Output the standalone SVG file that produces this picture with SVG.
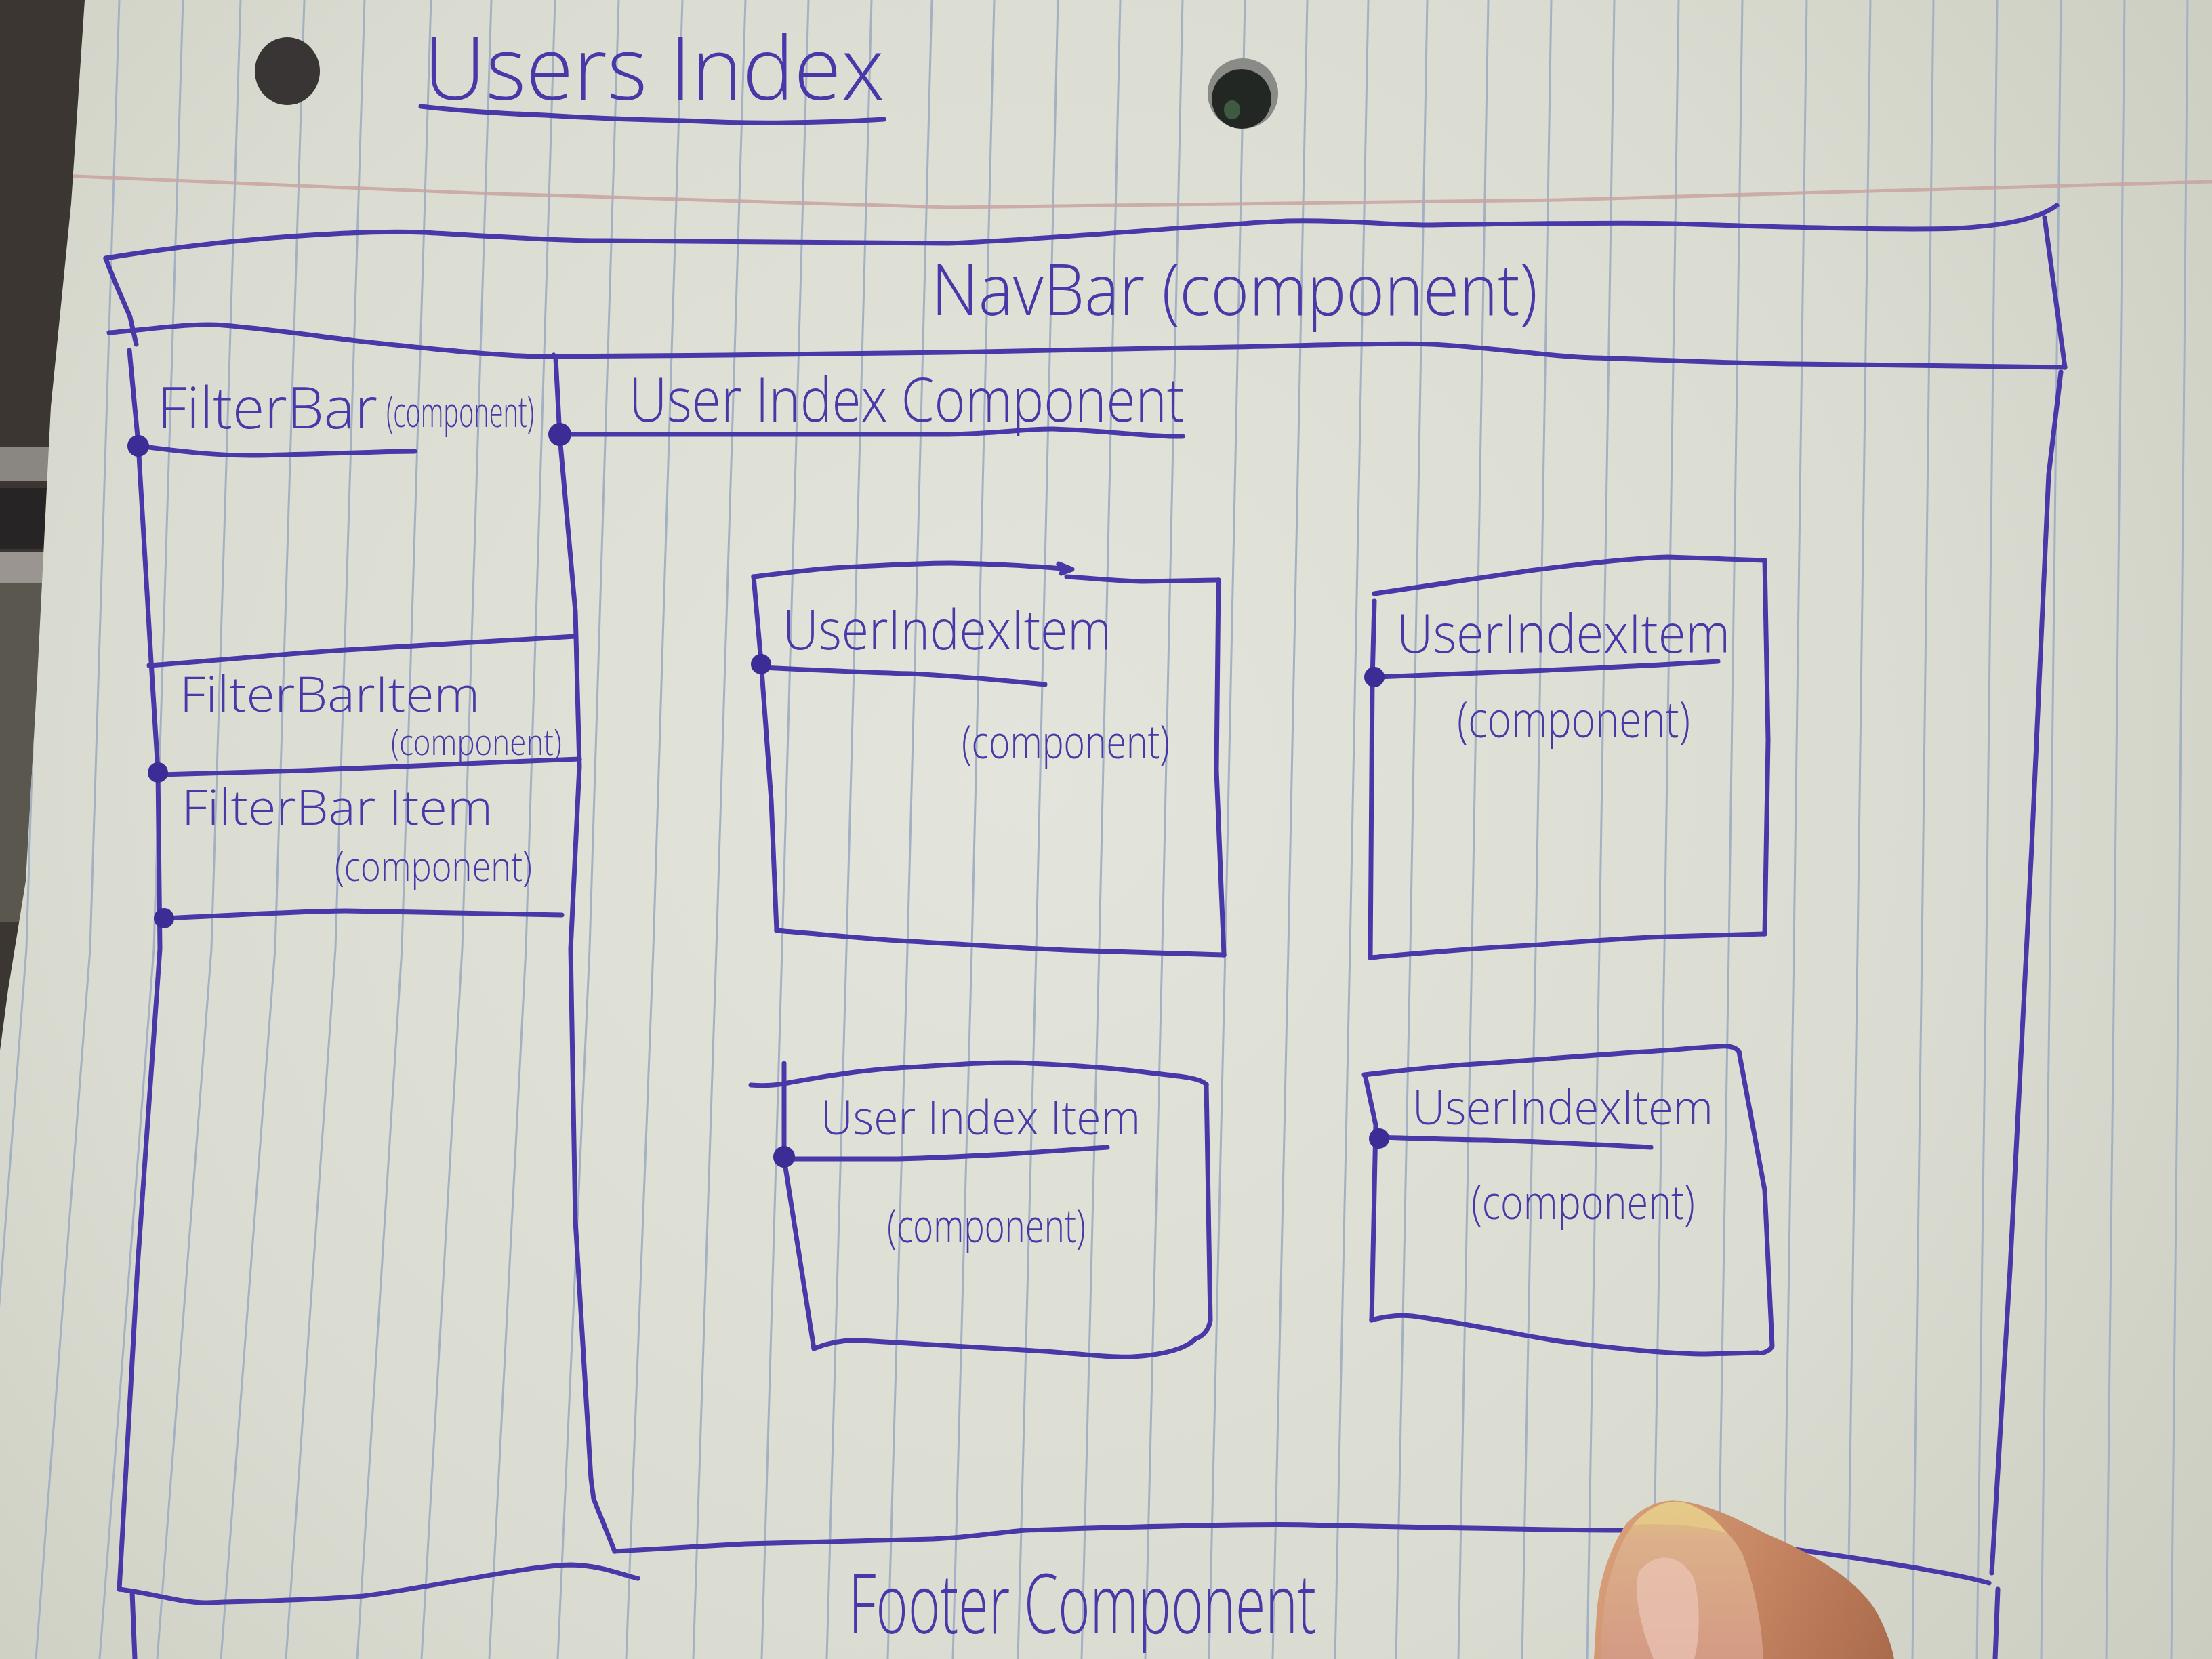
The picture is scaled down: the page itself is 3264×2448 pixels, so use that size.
<svg xmlns="http://www.w3.org/2000/svg" width="3264" height="2448" viewBox="0 0 3264 2448">
  <defs>
    <radialGradient id="paperShade" cx="1500" cy="1150" r="2300" gradientUnits="userSpaceOnUse">
      <stop offset="0" stop-color="#e3e4db"/>
      <stop offset="0.6" stop-color="#dadcd1"/>
      <stop offset="1" stop-color="#c9cbbf"/>
    </radialGradient>
    <linearGradient id="skin" x1="2350" y1="2250" x2="2800" y2="2448" gradientUnits="userSpaceOnUse">
      <stop offset="0" stop-color="#d9a27c"/>
      <stop offset="0.5" stop-color="#c68663"/>
      <stop offset="1" stop-color="#a96a4c"/>
    </linearGradient>
    <linearGradient id="nail" x1="2466" y1="2213" x2="2466" y2="2448" gradientUnits="userSpaceOnUse">
      <stop offset="0" stop-color="#e2c27c"/>
      <stop offset="0.25" stop-color="#dcb08a"/>
      <stop offset="1" stop-color="#d49a84"/>
    </linearGradient>
    <clipPath id="paperArea">
      <path d="M125 0 L3264 0 L3264 2448 L0 2448 L0 1550 L12 1460 L38 1300 L55 1000 L75 600 L105 300 Z"/>
    </clipPath>
    <style>
      .rule { fill: none; stroke: #a3b1c2; stroke-width: 3; }
      .ink { fill: none; stroke: #4838a8; stroke-width: 7; stroke-linecap: round; stroke-linejoin: round; }
      .dot { fill: #3b2c96; }
      .hand { fill: #4838a8; font-family: "Open Sans", "Liberation Sans", sans-serif; font-weight: 300; }
    </style>
  </defs>

  <!-- table surface behind the sheet -->
  <rect x="0" y="0" width="3264" height="2448" fill="#3c3633"/>
  <rect x="0" y="660" width="120" height="50" fill="#8a8682"/>
  <rect x="0" y="720" width="120" height="90" fill="#262424"/>
  <rect x="0" y="815" width="120" height="45" fill="#9a9590"/>
  <rect x="0" y="860" width="120" height="500" fill="#5a574f"/>

  <!-- ruled sheet -->
  <g id="paper" clip-path="url(#paperArea)">
    <rect x="0" y="0" width="3264" height="2448" fill="url(#paperShade)"/>
    <path class="rule" d="M82 0 L39 1400 L-41 2448 M176 0 L133 1400 L53 2448 M270 0 L227 1400 L147 2448 M355 0 L312 1400 L232 2448 M449 0 L406 1400 L326 2448 M538 0 L495 1400 L422 2448 M636 0 L593 1400 L527 2448 M725 0 L682 1400 L622 2448 M819 0 L776 1400 L722 2448 M913 0 L870 1400 L823 2448 M1007 0 L964 1400 L924 2448 M1100 0 L1057 1400 L1023 2448 M1193 0 L1154 1400 L1124 2448 M1286 0 L1249 1400 L1220 2448 M1375 0 L1339 1400 L1310 2448 M1467 0 L1434 1400 L1406 2448 M1561 0 L1529 1400 L1502 2448 M1653 0 L1622 1400 L1596 2448 M1745 0 L1715 1400 L1690 2448 M1837 0 L1808 1400 L1784 2448 M1929 0 L1901 1400 L1878 2448 M2019 0 L1992 1400 L1970 2448 M2106 0 L2081 1400 L2060 2448 M2196 0 L2172 1400 L2152 2448 M2289 0 L2266 1400 L2246 2448 M2382 0 L2360 1400 L2342 2448 M2477 0 L2456 1400 L2438 2448 M2571 0 L2551 1400 L2534 2448 M2666 0 L2647 1400 L2631 2448 M2760 0 L2741 1400 L2726 2448 M2853 0 L2836 1400 L2822 2448 M2947 0 L2931 1400 L2917 2448 M3041 0 L3025 1400 L3012 2448 M3135 0 L3120 1400 L3108 2448 M3228 0 L3215 1400 L3204 2448"/>
    <!-- margin line -->
    <path d="M89 259 L700 285 L1400 306 L2300 295 L3264 268" fill="none" stroke="#c9a3a0" stroke-width="5" opacity="0.85"/>
    <!-- punch holes -->
    <ellipse cx="424" cy="105" rx="48" ry="50" fill="#383534"/>
    <ellipse cx="1834" cy="138" rx="52" ry="52" fill="#8a8a86"/>
    <ellipse cx="1832" cy="146" rx="44" ry="44" fill="#232723"/>
    <ellipse cx="1818" cy="162" rx="12" ry="14" fill="#3e5a40"/>
  </g>

  <g id="title">
    <text class="hand" x="625" y="147" font-size="130" textLength="680" lengthAdjust="spacingAndGlyphs">Users Index</text>
    <path class="ink" d="M621 157 Q700 166 804 170 Q900 176 1009 178 Q1090 182 1161 181 Q1240 180 1304 176"/>
  </g>

  <g id="navbar">
    <path class="ink" d="M156 381 C210 372 300 360 357 355 C450 346 560 340 625 343 C750 350 820 355 893 355 L1400 359 C1600 350 1800 330 1899 326 C2000 324 2050 333 2113 332 C2250 330 2400 328 2470 330 C2650 336 2800 340 2886 337 C2960 333 3010 322 3035 303"/>
    <path class="ink" d="M161 491 C230 485 290 476 330 480 C420 488 480 498 536 504 C650 516 740 526 804 526 L1071 524 L1400 520 C1550 516 1650 515 1757 513 C1900 511 2050 505 2113 508 C2220 514 2290 527 2351 528 C2480 532 2580 537 2648 537 L3047 542"/>
    <path class="ink" d="M156 381 C170 420 185 450 192 468 L201 508"/>
    <path class="ink" d="M3017 321 L3047 542"/>
    <text class="hand" x="1374" y="465" font-size="105" textLength="895" lengthAdjust="spacingAndGlyphs">NavBar (component)</text>
  </g>

  <g id="page-frame">
    <path class="ink" d="M191 517 L204 655 L223 976 L233 1137 L236 1400 L203 1868 L176 2345"/>
    <path class="ink" d="M195 2349 L199 2448"/>
    <path class="ink" d="M3041 549 L3023 700 L2998 1249 L2966 1873 L2939 2321"/>
    <path class="ink" d="M2948 2345 L2944 2448"/>
  </g>

  <g id="filterbar">
    <text class="hand" x="232" y="632" font-size="85" textLength="325" lengthAdjust="spacingAndGlyphs">FilterBar</text>
    <text class="hand" x="570" y="630" font-size="62" textLength="218" lengthAdjust="spacingAndGlyphs">(component)</text>
    <path class="ink" d="M204 658 C280 668 330 673 383 672 C480 670 560 666 612 666"/>
    <circle class="dot" cx="204" cy="658" r="16"/>
    <path class="ink" d="M176 2345 C230 2352 270 2366 306 2365 C400 2362 480 2360 536 2355 C650 2340 780 2310 842 2309 C890 2310 920 2325 941 2329"/>
  </g>

  <g id="filterbar-item-1">
    <path class="ink" d="M220 982 C350 972 430 964 510 959 C650 951 760 944 849 939"/>
    <text class="hand" x="265" y="1050" font-size="72" textLength="443" lengthAdjust="spacingAndGlyphs">FilterBarItem</text>
    <text class="hand" x="577" y="1114" font-size="54" textLength="252" lengthAdjust="spacingAndGlyphs">(component)</text>
  </g>

  <g id="filterbar-item-2">
    <path class="ink" d="M236 1143 C330 1140 390 1138 447 1137 C530 1134 590 1131 638 1129 L855 1120"/>
    <circle class="dot" cx="233" cy="1140" r="15"/>
    <text class="hand" x="268" y="1217" font-size="72" textLength="459" lengthAdjust="spacingAndGlyphs">FilterBar Item</text>
    <text class="hand" x="494" y="1300" font-size="60" textLength="291" lengthAdjust="spacingAndGlyphs">(component)</text>
    <path class="ink" d="M242 1355 C350 1350 430 1345 510 1344 L829 1350"/>
    <circle class="dot" cx="242" cy="1355" r="15"/>
  </g>

  <g id="user-index">
    <path class="ink" d="M817 524 L820 529 L826 644 L849 902 L855 1131 L842 1400 L849 1801 L872 2182 L876 2212 L907 2289"/>
    <text class="hand" x="928" y="622" font-size="90" textLength="820" lengthAdjust="spacingAndGlyphs">User Index Component</text>
    <path class="ink" d="M826 641 L1400 641 C1470 640 1520 632 1555 633 C1640 636 1700 645 1745 644"/>
    <circle class="dot" cx="826" cy="641" r="17"/>
  </g>

  <g id="user-index-item-1">
    <path class="ink" d="M1112 851 C1160 845 1200 840 1230 838 C1300 834 1360 831 1402 831 C1480 832 1530 836 1580 840"/>
    <path class="ink" d="M1562 832 L1582 840 L1566 846"/>
    <path class="ink" d="M1574 851 C1620 854 1660 858 1689 858 L1798 856"/>
    <path class="ink" d="M1112 851 L1123 976 L1138 1181 L1146 1373"/>
    <path class="ink" d="M1146 1373 C1250 1382 1300 1387 1344 1389 C1450 1395 1520 1400 1574 1402 L1806 1409"/>
    <path class="ink" d="M1798 856 L1795 1137 L1806 1409"/>
    <text class="hand" x="1155" y="958" font-size="82" textLength="485" lengthAdjust="spacingAndGlyphs">UserIndexItem</text>
    <path class="ink" d="M1123 985 C1230 990 1300 993 1344 994 C1420 998 1490 1005 1542 1010"/>
    <circle class="dot" cx="1123" cy="980" r="15"/>
    <text class="hand" x="1419" y="1119" font-size="68" textLength="307" lengthAdjust="spacingAndGlyphs">(component)</text>
  </g>

  <g id="user-index-item-2">
    <path class="ink" d="M2028 876 C2120 862 2200 850 2257 842 C2350 830 2420 823 2461 822 L2604 827"/>
    <path class="ink" d="M2028 887 L2025 1003 L2022 1413"/>
    <path class="ink" d="M2604 827 L2609 1092 L2604 1378"/>
    <path class="ink" d="M2022 1413 C2120 1404 2200 1398 2257 1395 C2350 1388 2420 1383 2461 1382 L2604 1378"/>
    <text class="hand" x="2061" y="963" font-size="80" textLength="492" lengthAdjust="spacingAndGlyphs">UserIndexItem</text>
    <path class="ink" d="M2030 999 C2130 995 2200 992 2257 990 C2380 985 2470 980 2535 976"/>
    <circle class="dot" cx="2028" cy="999" r="15"/>
    <text class="hand" x="2150" y="1088" font-size="74" textLength="344" lengthAdjust="spacingAndGlyphs">(component)</text>
  </g>

  <g id="user-index-item-3">
    <path class="ink" d="M1108 1601 C1140 1604 1160 1598 1173 1596 C1230 1586 1280 1578 1325 1576 C1420 1570 1480 1566 1520 1569 C1600 1572 1660 1578 1705 1584 C1740 1588 1770 1590 1780 1600"/>
    <path class="ink" d="M1157 1569 L1157 1710 L1201 1990"/>
    <path class="ink" d="M1201 1990 C1225 1980 1250 1977 1271 1978 C1380 1984 1480 1990 1542 1994 C1600 1998 1640 2004 1672 2002 C1720 1999 1750 1990 1765 1975"/>
    <path class="ink" d="M1780 1600 L1786 1948 C1784 1962 1775 1972 1765 1975"/>
    <text class="hand" x="1211" y="1674" font-size="70" textLength="472" lengthAdjust="spacingAndGlyphs">User Index Item</text>
    <path class="ink" d="M1157 1710 L1325 1710 C1400 1708 1450 1705 1488 1703 L1634 1693"/>
    <circle class="dot" cx="1157" cy="1707" r="16"/>
    <text class="hand" x="1309" y="1833" font-size="68" textLength="293" lengthAdjust="spacingAndGlyphs">(component)</text>
  </g>

  <g id="user-index-item-4">
    <path class="ink" d="M2013 1586 C2080 1578 2140 1572 2192 1569 C2280 1562 2350 1557 2409 1553 C2470 1550 2510 1545 2539 1544 C2552 1543 2562 1546 2566 1552"/>
    <path class="ink" d="M2015 1590 L2030 1660 L2024 1948"/>
    <path class="ink" d="M2566 1552 L2604 1756 L2615 1986 C2612 1994 2600 1998 2593 1996"/>
    <path class="ink" d="M2024 1948 C2045 1942 2065 1940 2084 1942 C2180 1955 2240 1970 2301 1979 C2400 1992 2470 1998 2518 1998 L2593 1996"/>
    <text class="hand" x="2084" y="1659" font-size="70" textLength="444" lengthAdjust="spacingAndGlyphs">UserIndexItem</text>
    <path class="ink" d="M2030 1678 C2100 1680 2150 1682 2192 1682 C2300 1686 2380 1690 2436 1693"/>
    <circle class="dot" cx="2035" cy="1680" r="15"/>
    <text class="hand" x="2171" y="1799" font-size="70" textLength="330" lengthAdjust="spacingAndGlyphs">(component)</text>
  </g>

  <g id="footer">
    <path class="ink" d="M907 2289 L1100 2278 L1376 2271 C1440 2268 1480 2260 1514 2258 C1700 2252 1850 2248 1928 2250 C2100 2254 2300 2258 2420 2258"/>
    <path class="ink" d="M2560 2264 L2604 2280 C2750 2300 2880 2320 2935 2336"/>
    <text class="hand" x="1252" y="2410" font-size="122" textLength="690" lengthAdjust="spacingAndGlyphs">Footer Component</text>
  </g>

  <!-- thumb holding the sheet -->
  <g id="thumb">
    <path d="M2352 2448 L2356 2380 C2360 2330 2375 2285 2400 2248 C2425 2222 2450 2212 2480 2215 C2530 2222 2570 2245 2610 2265 C2680 2295 2740 2330 2770 2380 C2785 2410 2792 2430 2795 2448 Z" fill="url(#skin)"/>
    <path d="M2362 2448 C2362 2360 2380 2290 2410 2250 C2430 2226 2455 2214 2478 2216 C2510 2222 2545 2250 2570 2290 C2590 2340 2600 2400 2602 2448 Z" fill="url(#nail)"/>
    <path d="M2418 2320 C2440 2290 2480 2290 2500 2330 C2510 2370 2508 2420 2500 2448 L2440 2448 C2420 2400 2410 2350 2418 2320 Z" fill="#ebc6b8" opacity="0.7"/>
    <path d="M2410 2250 C2430 2226 2455 2214 2478 2216 C2505 2220 2530 2238 2548 2262 C2510 2250 2450 2248 2410 2250 Z" fill="#e6cc8a" opacity="0.8"/>
  </g>
</svg>
